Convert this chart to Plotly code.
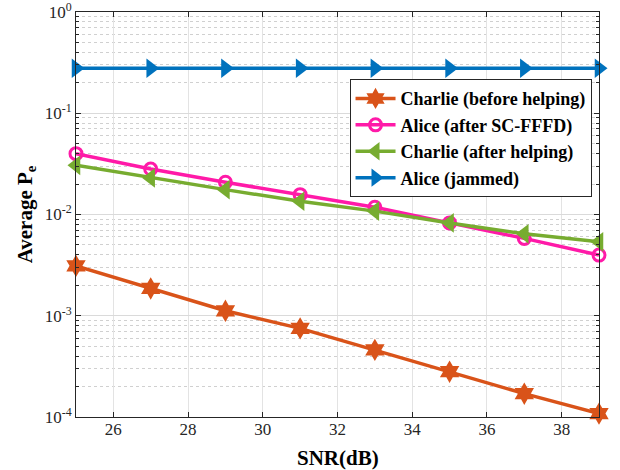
import plotly.graph_objects as go

snr = [25, 27, 29, 31, 33, 35, 37, 39]
charlie_before = [0.00311, 0.00186, 0.00112, 0.00075, 0.00046, 0.00028, 0.00017, 0.000108]
alice_after = [0.0399, 0.0281, 0.0208, 0.0157, 0.0118, 0.00826, 0.00581, 0.00397]
charlie_after = [0.0306, 0.0230, 0.0176, 0.0135, 0.0108, 0.00826, 0.00644, 0.00537]
alice_jammed = [0.278] * 8

names = ["Charlie (before helping)", "Alice (after SC-FFFD)", "Charlie (after helping)", "Alice (jammed)"]
series = [charlie_before, alice_after, charlie_after, alice_jammed]
colors = ["#D95319", "#FF1AA8", "#77AC30", "#0072BD"]
symbols = ["hexagram", "circle-open", "triangle-left", "triangle-right"]
sizes = [17, 12, 17, 17]

ytickvals = [1e-4, 1e-3, 1e-2, 1e-1, 1]
yticktext = ["10<sup>-4</sup>", "10<sup>-3</sup>", "10<sup>-2</sup>", "10<sup>-1</sup>", "10<sup>0</sup>"]
decades = [1e-4, 1e-3, 1e-2, 1e-1]
multipliers = [2, 3, 4, 5, 6, 7, 8, 9]
yminor = [d * m for d in decades for m in multipliers]
xtickvals = [26, 28, 30, 32, 34, 36, 38]

fig = go.Figure()
for n, s, c, sym, sz in zip(names, series, colors, symbols, sizes):
    mk = dict(symbol=sym, size=sz, color=c)
    if sym == "circle-open":
        mk["line"] = dict(width=3, color=c)
    else:
        mk["line"] = dict(width=0)
    fig.add_trace(go.Scatter(x=snr, y=s, name=n, mode="lines+markers",
                             line=dict(color=c, width=3.5), marker=mk, cliponaxis=False))

serif = "Liberation Serif"
fig.update_layout(
    width=620, height=470,
    margin=dict(l=76, r=21, t=12, b=53, autoexpand=False),
    paper_bgcolor="white", plot_bgcolor="white",
    font=dict(family=serif, size=17, color="#262626"),
    legend=dict(x=0.523, y=0.834, xanchor="left", yanchor="top",
                bgcolor="white", bordercolor="#262626", borderwidth=1,
                font=dict(family=serif, size=18, color="#000000", weight="bold"),
                tracegroupgap=0, itemwidth=40),
    showlegend=True,
    annotations=[dict(text="<b>SNR(dB)</b>", xref="paper", yref="paper", x=0.5, y=0,
                      xanchor="center", yanchor="top", yshift=-27, showarrow=False,
                      font=dict(size=21, family=serif, color="#000"))],
)
fig.update_xaxes(
    range=[25, 39], tickvals=xtickvals, showgrid=True, gridcolor="#E3E3E3", gridwidth=1,
    ticks="inside", ticklen=5, tickcolor="#262626", mirror="ticks", showline=True,
    linecolor="#262626", linewidth=1, zeroline=False, ticklabelstandoff=-3,
    tickfont=dict(size=17, color="#262626"),
)
fig.update_yaxes(
    type="log", range=[-4, 0], tickvals=ytickvals, ticktext=yticktext,
    ticklabeloverflow="allow",
    showgrid=True, gridcolor="#DADADA", gridwidth=1,
    ticks="inside", ticklen=5, tickcolor="#262626", mirror="ticks", showline=True,
    linecolor="#262626", linewidth=1, zeroline=False,
    minor=dict(tickmode="array", tickvals=yminor, showgrid=True, griddash="dot",
               gridcolor="#D0D0D0", ticks="inside", ticklen=3, tickcolor="#262626"),
    title=dict(text="<b>Average P<sub>e</sub></b>", standoff=6, font=dict(size=21, family=serif, color="#000")),
    tickfont=dict(size=17, color="#262626"),
)

fig.write_html("out.html", config={"displayModeBar": False},
               post_script="document.body.style.margin='0';")
